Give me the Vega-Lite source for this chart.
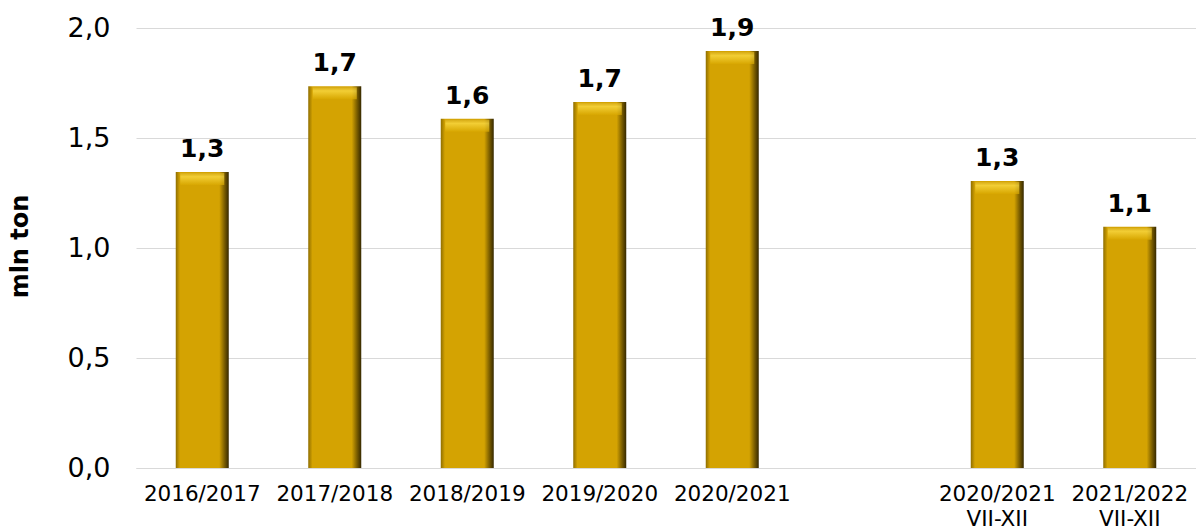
{
  "$schema": "https://vega.github.io/schema/vega-lite/v6.json",
  "width": 1060,
  "height": 440,
  "autosize": {"type": "none"},
  "padding": {"left": 136, "top": 28, "right": 0, "bottom": 62},
  "background": "white",
  "config": {
    "locale": {"number": {"decimal": ",", "thousands": " ", "grouping": [3], "currency": ["", ""]}},
    "view": {"stroke": null},
    "font": "DejaVu Sans"
  },
  "data": {
    "values": [
      {"period": "2016/2017", "value": 1.345},
      {"period": "2017/2018", "value": 1.735},
      {"period": "2018/2019", "value": 1.587},
      {"period": "2019/2020", "value": 1.664},
      {"period": "2020/2021", "value": 1.895},
      {"period": "2020/2021 VII-XII", "value": 1.305},
      {"period": "2021/2022 VII-XII", "value": 1.097}
    ]
  },
  "encoding": {
    "x": {
      "field": "period",
      "type": "nominal",
      "sort": null,
      "scale": {
        "domain": ["2016/2017", "2017/2018", "2018/2019", "2019/2020", "2020/2021", "gap", "2020/2021 VII-XII", "2021/2022 VII-XII"],
        "paddingInner": 0.6,
        "paddingOuter": 0.3
      },
      "axis": {
        "title": null,
        "labelAngle": 0,
        "labelExpr": "datum.value == 'gap' ? '' : split(datum.value, ' ')",
        "labelFont": "DejaVu Sans",
        "labelFontSize": 21.5,
        "labelColor": "#000000",
        "labelLineHeight": 25,
        "labelPadding": 15,
        "ticks": false,
        "domain": true,
        "domainColor": "#d9d9d9",
        "labelBaseline": "top"
      }
    },
    "y": {
      "field": "value",
      "type": "quantitative",
      "scale": {"domain": [0, 2], "nice": false},
      "axis": {
        "title": "mln ton",
        "titleFont": "DejaVu Sans",
        "titleFontSize": 24,
        "titleFontWeight": "bold",
        "titleColor": "#000000",
        "titleX": -116,
        "titleY": 218,
        "titleAngle": -90,
        "titleAlign": "center",
        "titleBaseline": "middle",
        "values": [0, 0.5, 1, 1.5, 2],
        "format": ".1f",
        "labelFont": "DejaVu Sans",
        "labelFontSize": 27,
        "labelColor": "#000000",
        "labelPadding": 26,
        "ticks": false,
        "domain": false,
        "gridColor": "#d9d9d9",
        "gridWidth": 1
      }
    }
  },
  "layer": [
    {
      "mark": {
        "type": "bar",
        "color": {
          "gradient": "linear",
          "x1": 0, "y1": 0, "x2": 1, "y2": 0,
          "stops": [
            {"offset": 0, "color": "#8f6e00"},
            {"offset": 0.08, "color": "#d4a302"},
            {"offset": 0.82, "color": "#d4a302"},
            {"offset": 0.92, "color": "#7a5d00"},
            {"offset": 1, "color": "#352800"}
          ]
        }
      }
    },
    {
      "mark": {
        "type": "tick",
        "thickness": 12,
        "size": 44,
        "yOffset": 7,
        "color": {
          "gradient": "linear",
          "x1": 0, "y1": 0, "x2": 0, "y2": 1,
          "stops": [
            {"offset": 0, "color": "#d9b020"},
            {"offset": 0.3, "color": "#ffe04a"},
            {"offset": 1, "color": "#d9a800"}
          ]
        }
      }
    },
    {
      "mark": {
        "type": "text",
        "baseline": "alphabetic",
        "dy": -15,
        "font": "DejaVu Sans",
        "fontSize": 25,
        "fontWeight": "bold",
        "color": "#000000"
      },
      "encoding": {
        "text": {"field": "value", "type": "quantitative", "format": ".1f"}
      }
    }
  ]
}
